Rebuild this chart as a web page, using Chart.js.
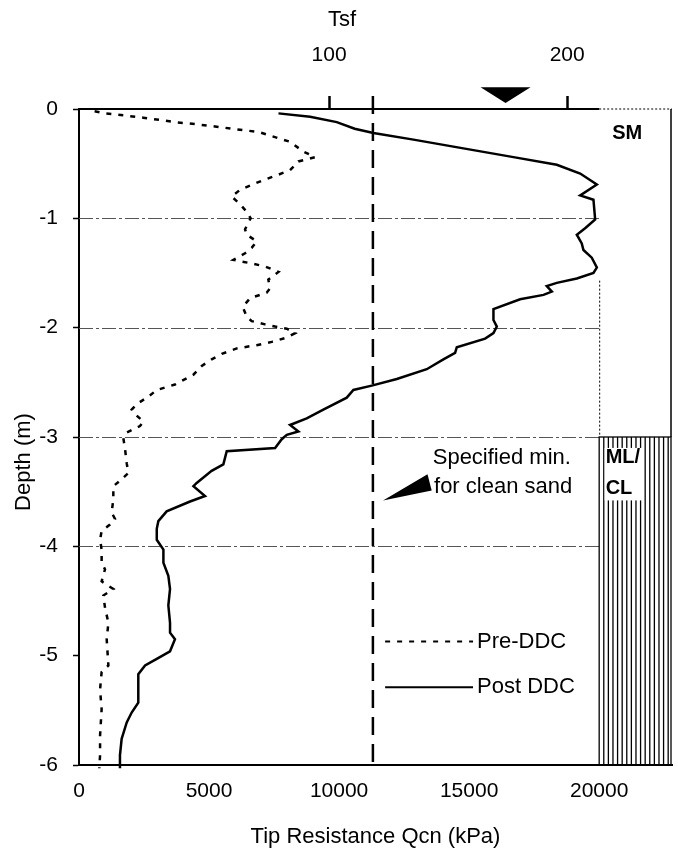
<!DOCTYPE html>
<html>
<head>
<meta charset="utf-8">
<script src="https://cdn.jsdelivr.net/npm/chart.js@4.4.1/dist/chart.umd.min.js"></script>
<style>
  html, body { margin: 0; padding: 0; background: #fff; }
  #wrap { width: 678px; height: 862px; }
</style>
</head>
<body>
<div id="wrap"><canvas id="cpt"></canvas></div>
<script>
// CPT soundings: tip resistance (kPa) against depth (m)
const preQc = [600, 1000, 1770, 2470, 3115, 3690, 4525, 5230, 6190, 6900, 7435, 8115, 8630, 9075, 8435, 8115,
  7670, 7090, 6580, 6190, 5870, 6190, 6450, 6600, 6510, 6385, 6450, 6830, 6640, 6385, 5935, 6580, 7155, 7670,
  7280, 7345, 7215, 6580, 6295, 6450, 6640, 7155, 7540, 7990, 8310, 7990, 7410, 6830, 6065, 5490, 5100, 4720,
  4400, 3690, 2990, 2670, 2215, 2025, 2155, 2475, 2345, 1835, 1705, 1770, 1835, 1895, 1575, 1320, 1320, 1255,
  1385, 1190, 870, 810, 870, 870, 1000, 870, 1320, 935, 1000, 1130, 1065, 1130, 870, 810, 870, 810, 810, 780];
const preDepth = [-0.02, -0.04, -0.06, -0.08, -0.10, -0.12, -0.14, -0.16, -0.19, -0.21, -0.25, -0.30, -0.39, -0.44,
  -0.48, -0.56, -0.60, -0.65, -0.70, -0.74, -0.80, -0.87, -0.94, -1.00, -1.04, -1.10, -1.15, -1.21, -1.27, -1.32,
  -1.38, -1.41, -1.44, -1.49, -1.56, -1.64, -1.68, -1.73, -1.81, -1.90, -1.94, -1.97, -1.99, -2.01, -2.05, -2.09,
  -2.13, -2.16, -2.19, -2.24, -2.29, -2.35, -2.43, -2.52, -2.57, -2.63, -2.70, -2.75, -2.79, -2.86, -2.90, -2.96,
  -3.01, -3.11, -3.24, -3.33, -3.40, -3.45, -3.57, -3.69, -3.75, -3.80, -3.86, -3.94, -4.03, -4.15, -4.21, -4.32,
  -4.39, -4.45, -4.56, -4.70, -4.85, -5.09, -5.15, -5.31, -5.49, -5.73, -5.91, -6.03];

const postQc = [7670, 8885, 9910, 10600, 11320, 12860, 14780, 16705, 18370, 19270, 19910, 19270, 19780, 19845,
  19460, 19140, 19330, 19395, 19715, 19910, 19780, 19140, 18370, 17985, 18180, 17860, 16960, 15935, 15935, 16065,
  15935, 15615, 14525, 14460, 14010, 13370, 12220, 11255, 10550, 10295, 9395, 8755, 8115, 8435, 7990, 7795, 7540,
  5680, 5550, 5100, 4525, 4400, 4845, 4270, 3370, 3050, 2990, 2990, 3245, 3245, 3435, 3500, 3435, 3500, 3500,
  3690, 3500, 2990, 2540, 2280, 2280, 2025, 1835, 1640, 1575, 1575];
const postDepth = [-0.04, -0.07, -0.12, -0.18, -0.22, -0.28, -0.36, -0.44, -0.51, -0.59, -0.69, -0.79, -0.83, -1.01,
  -1.09, -1.15, -1.23, -1.29, -1.36, -1.45, -1.50, -1.55, -1.59, -1.62, -1.67, -1.70, -1.74, -1.83, -1.93, -1.99,
  -2.05, -2.10, -2.18, -2.23, -2.29, -2.38, -2.47, -2.53, -2.57, -2.64, -2.75, -2.83, -2.89, -2.95, -2.98, -3.02,
  -3.10, -3.13, -3.25, -3.31, -3.42, -3.45, -3.54, -3.59, -3.68, -3.77, -3.84, -3.94, -4.03, -4.15, -4.27, -4.39,
  -4.54, -4.70, -4.79, -4.85, -4.96, -5.03, -5.09, -5.17, -5.43, -5.52, -5.61, -5.76, -5.91, -6.03];

// axes
const kpaTicks = [0, 5000, 10000, 15000, 20000];
const tsfTicks = [100, 200];
const depthTicks = [0, -1, -2, -3, -4, -5, -6];
const gridDepths = [-1, -2, -3, -4];

// specified minimum for clean sand, kPa
const minQc = [11300, 11300];
const minDepth = [0.12, -6.05];

// water table marker and soil layers
const waterTableQc = 16400;
const layerNames = ['SM', 'ML/', 'CL'];

const FONT = "'Liberation Sans', Arial, sans-serif";
Chart.defaults.font.family = FONT;
Chart.defaults.color = '#000';

const pts = (xs, ys) => xs.map((v, i) => ({ x: v, y: ys[i] }));

const decor = {
    id: 'decor',
    beforeDatasetsDraw(chart) {
        const { ctx, chartArea: a, scales: { x, y } } = chart;
        const x20 = x.getPixelForValue(20000);
        ctx.save();

        // depth grid lines
        ctx.strokeStyle = '#555';
        ctx.lineWidth = 1;
        ctx.setLineDash([14, 3, 3, 3]);
        gridDepths.forEach(d => {
            const py = Math.round(y.getPixelForValue(d)) + 0.5;
            ctx.beginPath(); ctx.moveTo(a.left, py); ctx.lineTo(x20, py); ctx.stroke();
        });

        // top frame: solid to 20000, dotted beyond
        const y0 = y.getPixelForValue(0);
        ctx.setLineDash([]);
        ctx.strokeStyle = '#000';
        ctx.lineWidth = 2;
        ctx.beginPath(); ctx.moveTo(a.left, y0); ctx.lineTo(x20, y0); ctx.stroke();
        ctx.lineWidth = 1;
        ctx.setLineDash([2, 2]);
        ctx.beginPath(); ctx.moveTo(x20, y0); ctx.lineTo(a.right, y0); ctx.stroke();

        // SM layer boundary
        const y3 = y.getPixelForValue(-3);
        ctx.beginPath(); ctx.moveTo(x20 + 0.5, y.getPixelForValue(-1.57)); ctx.lineTo(x20 + 0.5, y3); ctx.stroke();
        ctx.setLineDash([]);
        ctx.lineWidth = 1.5;
        ctx.beginPath(); ctx.moveTo(a.right - 1, y0); ctx.lineTo(a.right - 1, y3); ctx.stroke();

        // ML/CL hatching
        const y6 = y.getPixelForValue(-6);
        ctx.lineWidth = 1.3;
        ctx.strokeRect(x20, y3, a.right - 1 - x20, y6 - y3);
        for (let px = x20 + 4.6; px < a.right - 2; px += 4.6) {
            ctx.beginPath(); ctx.moveTo(px, y3); ctx.lineTo(px, y6); ctx.stroke();
        }
        ctx.restore();
    },
    afterDatasetsDraw(chart) {
        const { ctx, scales: { x, y } } = chart;
        const pre = chart.data.datasets[1], post = chart.data.datasets[2];
        ctx.save();

        // water table
        const wx = x.getPixelForValue(waterTableQc);
        ctx.fillStyle = '#000';
        ctx.beginPath();
        ctx.moveTo(wx - 25, y.getPixelForValue(0.2));
        ctx.lineTo(wx + 25, y.getPixelForValue(0.2));
        ctx.lineTo(wx, y.getPixelForValue(0.055));
        ctx.closePath(); ctx.fill();

        // annotation
        ctx.font = '22px ' + FONT;
        ctx.textBaseline = 'middle';
        ctx.textAlign = 'left';
        ctx.fillText('Specified min.', x.getPixelForValue(13600), y.getPixelForValue(-3.19));
        ctx.fillText('for clean sand', x.getPixelForValue(13650), y.getPixelForValue(-3.46));
        ctx.beginPath();
        ctx.moveTo(x.getPixelForValue(11690), y.getPixelForValue(-3.58));
        ctx.lineTo(x.getPixelForValue(13400), y.getPixelForValue(-3.34));
        ctx.lineTo(x.getPixelForValue(13560), y.getPixelForValue(-3.49));
        ctx.closePath(); ctx.fill();

        // legend
        const lx0 = x.getPixelForValue(11770), lx1 = x.getPixelForValue(15150);
        [[pre, -4.87], [post, -5.29]].forEach(([ds, d]) => {
            const py = y.getPixelForValue(d);
            ctx.strokeStyle = ds.borderColor;
            ctx.lineWidth = 2;
            ctx.setLineDash(ds.borderDash || []);
            ctx.beginPath(); ctx.moveTo(lx0, py); ctx.lineTo(lx1, py); ctx.stroke();
            ctx.fillText(ds.label, lx1 + 4, py);
        });
        ctx.setLineDash([]);

        // soil layer labels
        ctx.font = 'bold 20px ' + FONT;
        ctx.fillText(layerNames[0], x.getPixelForValue(20500), y.getPixelForValue(-0.22));
        const lx = x.getPixelForValue(20250);
        ctx.fillStyle = '#fff';
        ctx.fillRect(lx - 1, y.getPixelForValue(-3.1), 38, y.getPixelForValue(-3.58) - y.getPixelForValue(-3.1));
        ctx.fillStyle = '#000';
        ctx.fillText(layerNames[1], lx, y.getPixelForValue(-3.19));
        ctx.fillText(layerNames[2], lx, y.getPixelForValue(-3.47));

        // axis titles placed as in the figure
        ctx.font = '22px ' + FONT;
        ctx.textAlign = 'center';
        ctx.fillText('Tsf', 342, 20);
        ctx.translate(24, 462);
        ctx.rotate(-Math.PI / 2);
        ctx.fillText('Depth (m)', 0, 0);
        ctx.restore();
    }
};

new Chart(document.getElementById('cpt'), {
    type: 'line',
    data: {
        datasets: [{
            label: 'Specified min.',
            data: pts(minQc, minDepth),
            borderColor: '#000',
            borderWidth: 2.5,
            borderDash: [18, 9],
            pointRadius: 0,
            clip: false
        }, {
            label: 'Pre-DDC',
            data: pts(preQc, preDepth),
            borderColor: '#000',
            borderWidth: 2.5,
            borderDash: [5, 7],
            pointRadius: 0,
            tension: 0,
            clip: false
        }, {
            label: 'Post DDC',
            data: pts(postQc, postDepth),
            borderColor: '#000',
            borderWidth: 2.5,
            pointRadius: 0,
            tension: 0,
            clip: false
        }]
    },
    options: {
        responsive: true,
        maintainAspectRatio: false,
        animation: false,
        layout: { padding: { left: 0, right: 6, top: 0, bottom: 0 } },
        plugins: { legend: { display: false }, tooltip: { enabled: false } },
        scales: {
            x: {
                type: 'linear',
                position: 'bottom',
                min: 0,
                max: 22800,
                afterBuildTicks: s => { s.ticks = kpaTicks.map(v => ({ value: v })); },
                afterFit: s => { s.height = 97; },
                ticks: { font: { size: 21 }, padding: 14, maxRotation: 0, callback: v => String(v) },
                grid: { display: false, drawTicks: false },
                border: { display: true, color: '#000', width: 2 },
                title: { display: true, text: 'Tip Resistance Qcn (kPa)', font: { size: 22 }, padding: { top: 0, bottom: 12 } }
            },
            x2: {
                type: 'linear',
                position: 'top',
                min: -5,
                max: 244,
                afterBuildTicks: s => { s.ticks = tsfTicks.map(v => ({ value: v })); },
                afterFit: s => { s.height = 109; },
                ticks: { font: { size: 21 }, padding: 28, maxRotation: 0 },
                grid: { drawOnChartArea: false, tickLength: 13, tickWidth: 2.5, tickColor: '#000' },
                border: { display: false }
            },
            y: {
                type: 'linear',
                min: -6,
                max: 0,
                afterBuildTicks: s => { s.ticks = depthTicks.map(v => ({ value: v })); },
                afterFit: s => { s.width = 79; },
                ticks: { font: { size: 21 }, padding: 15 },
                grid: { drawOnChartArea: false, tickLength: 6, tickWidth: 1.5, tickColor: '#000' },
                border: { display: true, color: '#000', width: 2 }
            }
        }
    },
    plugins: [decor]
});
</script>
</body>
</html>
